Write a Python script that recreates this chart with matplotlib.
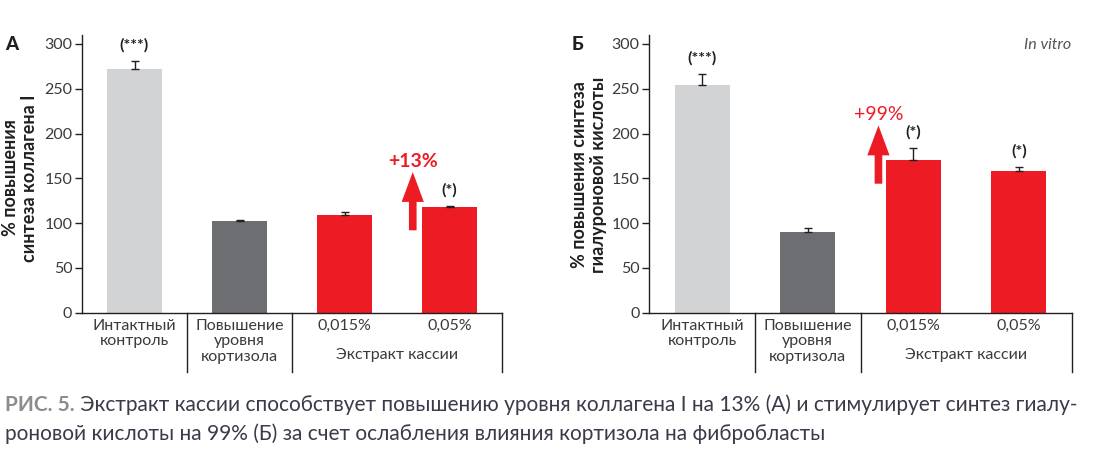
import matplotlib
matplotlib.use('Agg')
import matplotlib.pyplot as plt
from matplotlib.transforms import blended_transform_factory
from matplotlib.lines import Line2D

# ---------------- data ----------------
categories = ["Интактный\nконтроль", "Повышение\nуровня\nкортизола", "0,015%", "0,05%"]
group_label = "Экстракт кассии"
values_a = [272, 102, 109, 118]
errors_a = [9, 2, 3, 1]
values_b = [254, 90, 171, 158]
errors_b = [13, 4, 13, 5]
sig_a = ["(***)", "", "", "(*)"]
sig_b = ["(***)", "", "(*)", "(*)"]
yticks = [0, 50, 100, 150, 200, 250, 300]
ylabel_a = "% повышения\nсинтеза коллагена I"
ylabel_b = "% повышения синтеза\nгиалуроновой кислоты"
arrow_a = (92, 157)
label_a = "+13%"
arrow_b = (144, 209)
label_b = "+99%"
caption_head = "РИС. 5."
caption_l1 = " Экстракт кассии способствует повышению уровня коллагена I на 13% (А) и стимулирует синтез гиалу-"
caption_l2 = "роновой кислоты на 99% (Б) за счет ослабления влияния кортизола на фибробласты"

bar_colors = ['#d1d3d4', '#6d6e71', '#ed1c24', '#ed1c24']
RED = '#ed1c24'
TXT = '#3a3a3a'
FONT = ['Lato', 'DejaVu Sans']
plt.rcParams['font.family'] = FONT

W, H = 1117, 449
fig = plt.figure(figsize=(W / 100, H / 100), dpi=100)

def px_ax(l, r, top, bottom):
    return fig.add_axes([l / W, 1 - bottom / H, (r - l) / W, (bottom - top) / H])

def panel(ax, vals, errs, sigs, arrow, alabel, ax_x, label_bold):
    x = list(range(len(vals)))
    ax.bar(x, vals, width=0.52, color=bar_colors, zorder=2)
    ax.errorbar(x, vals, yerr=[[0] * len(errs), errs], fmt='none',
                ecolor='#231f20', elinewidth=1, capsize=3, capthick=1, zorder=3)
    for xi, v, e, s in zip(x, vals, errs, sigs):
        if s:
            ax.annotate(s, (xi, v + e), xytext=(0, 11), textcoords='offset points',
                        ha='center', va='center', fontsize=11.5, fontweight='bold', color='#231f20')
    ax.set_xlim(-0.5, 3.5)
    ax.set_ylim(0, 310)
    ax.set_yticks(yticks)
    ax.set_yticklabels([str(t) for t in yticks], fontsize=11.5, fontweight='normal', color=TXT)
    ax.tick_params(axis='y', length=5, width=1, color='#231f20', pad=2)
    ax.set_xticks([])
    for sp in ['top', 'right']:
        ax.spines[sp].set_visible(False)
    for sp in ['left', 'bottom']:
        ax.spines[sp].set_color('#231f20')
        ax.spines[sp].set_linewidth(1)
    tr = blended_transform_factory(ax.transData, ax.transAxes)
    for xi, c in zip(x, categories):
        ax.text(xi, -0.022, c, transform=tr, ha='center', va='top', fontsize=11.5,
                fontweight='normal', color=TXT, linespacing=1.15)
    ax.text(2.5, -0.152, group_label, transform=tr, ha='center', va='center',
            fontsize=11.5, fontweight='normal', color=TXT)
    for sx in [0.5, 1.5, 3.5]:
        ax.add_line(Line2D([sx, sx], [0, -0.214], transform=tr, color='#231f20',
                           lw=1, clip_on=False))
    ax.annotate('', xy=(ax_x, arrow[1]), xytext=(ax_x, arrow[0]),
                arrowprops=dict(arrowstyle='simple,head_length=2.15,head_width=1.6,tail_width=0.55',
                                color=RED, mutation_scale=10, shrinkA=0, shrinkB=0, lw=0))
    ax.text(ax_x, arrow[1] + 12, alabel, ha='center', va='center', fontsize=14,
            fontweight='bold' if label_bold else 'normal', color=RED)

axA = px_ax(82, 502, 35, 312.7)
panel(axA, values_a, errors_a, sig_a, arrow_a, label_a, 2.65, True)
axB = px_ax(649.3, 1071.7, 35, 312.7)
panel(axB, values_b, errors_b, sig_b, arrow_b, label_b, 1.67, False)

fig.text(20 / W, 1 - 178 / H, ylabel_a, rotation=90, ha='center', va='center',
         fontsize=13, fontweight='bold', color='#231f20', linespacing=1.1, multialignment='center')
fig.text(589 / W, 1 - 175 / H, ylabel_b, rotation=90, ha='center', va='center',
         fontsize=13, fontweight='bold', color='#231f20', linespacing=1.1, multialignment='center')

fig.text(5 / W, 1 - 44 / H, "А", ha='left', va='center', fontsize=13.5, fontweight='black', color='#231f20')
fig.text(572 / W, 1 - 44 / H, "Б", ha='left', va='center', fontsize=13.5, fontweight='black', color='#231f20')
fig.text(1071 / W, 1 - 45 / H, "In vitro", ha='right', va='center', fontsize=11.5,
         style='italic', fontweight='normal', color='#555555')

# caption
renderer = fig.canvas.get_renderer()
cap_fs = 15
t_head = fig.text(5 / W, 1 - 411 / H, caption_head, ha='left', va='baseline',
                  fontsize=cap_fs, fontweight='bold', color='#8c8c8c')
bb = t_head.get_window_extent(renderer)
t1 = fig.text(bb.x1 / W, 1 - 411 / H, caption_l1, ha='left', va='baseline',
              fontsize=cap_fs, color='#3a3a4a')
bb1 = t1.get_window_extent(renderer)
scale = (1082 - 5) / (bb1.x1 - 5)
cap_fs *= scale
t_head.set_fontsize(cap_fs)
bb = t_head.get_window_extent(renderer)
t1.set_fontsize(cap_fs)
t1.set_x(bb.x1 / W)
fig.text(5 / W, 1 - 440 / H, caption_l2, ha='left', va='baseline',
         fontsize=cap_fs, color='#3a3a4a')

fig.savefig('out.png', dpi=100)
